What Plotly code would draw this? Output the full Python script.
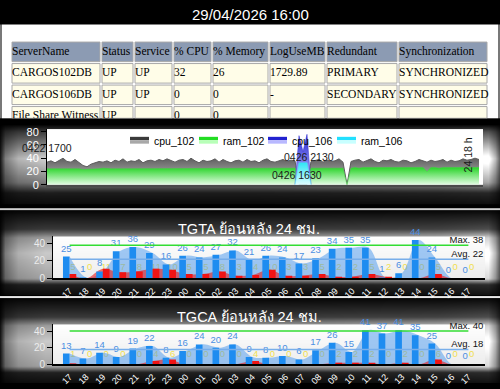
import base64, struct, zlib
import plotly.graph_objects as go

W, H = 500, 389

# ---------------- data ----------------
report_time = "29/04/2026 16:00"

table_header = ["ServerName", "Status", "Service", "% CPU", "% Memory", "LogUseMB", "Redundant", "Synchronization"]
table_row_1 = ["CARGOS102DB", "UP", "UP", "32", "26", "1729.89", "PRIMARY", "SYNCHRONIZED"]
table_row_2 = ["CARGOS106DB", "UP", "UP", "0", "0", "-", "SECONDARY", "SYNCHRONIZED"]
table_row_3 = ["File Share Witness", "UP", "", "0", "0", "", "", ""]

mem_series_names = ["cpu_102", "ram_102", "cpu_106", "ram_106"]
cpu_102 = [34, 36, 33, 37, 40, 35, 34, 38, 33,
           29, 27, 31, 33,
           35, 34, 36, 33, 37, 35, 39, 34, 36, 35, 38, 33, 36,
           37, 35, 38, 36, 39, 36, 34, 37, 38, 35, 40, 36, 33, 37, 35,
           36, 39, 34, 38, 35, 33, 36, 37, 34, 38, 35, 36, 33, 37, 39, 35, 34, 36, 38, 35, 37,
           36, 0, 0, 0, 35,
           36, 38, 34, 37, 35, 36, 39, 34,
           0,
           35, 37, 38, 34, 36, 39, 35, 33, 37, 36, 38, 35, 34, 37, 36, 33, 35, 38, 36, 34,
           37, 35, 36, 38, 34, 37, 35, 36, 39, 37, 38, 40, 38]
ram_102 = [24, 24, 25, 24, 24, 24, 25, 24, 24, 23,
           23, 24, 24, 24, 25, 24, 24, 24, 24, 25,
           24, 24, 24, 25, 24, 24, 24, 25, 24, 24,
           24, 24, 25, 24, 24, 25, 24, 24, 24, 24,
           25, 25, 24, 24, 25, 24, 24, 24, 25, 25,
           24, 25, 25, 24, 25, 25, 25, 24, 25, 25,
           25, 25,
           25, 0, 0, 0, 25,
           25, 25, 26, 25, 25, 26, 25, 25,
           0,
           25, 26, 25, 26, 26, 25, 26, 26, 25, 26,
           26, 26, 25, 26, 26, 26, 25, 26, 26, 20,
           26, 26, 25, 26, 26, 26, 26, 25, 26, 26,
           26, 26, 26]
win_106_index = [62, 63, 64, 65, 66]
cpu_106 = [0, 74, 50, 76, 0]
ram_106 = [0, 33, 33, 33, 0]
mem_tick_values = [0, 20, 40, 60, 80]
mem_notes = ["0422 1700", "0426 2130", "0426 1630", "24 18 h"]

hours = ["17", "18", "19", "20", "21", "22", "23", "00", "01", "02", "03", "04", "05",
         "06", "07", "08", "09", "10", "11", "12", "13", "14", "15", "16", "17"]
bar_tick_values = [0, 20, 40]

tgta_title = "TGTA ย้อนหลัง 24 ชม."
tgta_blue = [25, 1, 8, 31, 36, 29, 16, 26, 24, 27, 32, 21, 26, 24, 17, 23, 34, 35, 35, 1, 6, 44, 24, 0, 0]
tgta_red = [5, 0, 11, 7, 8, 11, 10, 5, 5, 8, 3, 4, 10, 3, 3, 5, 2, 2, 5, 2, 0, 0, 5, 0, 0]
tgta_max, tgta_avg = 38, 22

tgca_title = "TGCA ย้อนหลัง 24 ชม."
tgca_blue = [13, 7, 14, 9, 19, 22, 8, 16, 24, 20, 24, 9, 8, 10, 6, 17, 26, 15, 41, 37, 41, 35, 25, 0, 0]
tgca_red = [1, 0, 0, 0, 0, 4, 6, 0, 0, 0, 0, 4, 0, 0, 0, 0, 2, 2, 2, 0, 2, 0, 6, 0, 0]
tgca_max, tgca_avg = 40, 18

# ---------------- layout constants (pixels) ----------------
SANS = "Liberation Sans, Arial, sans-serif"
SERIF = "Liberation Serif, Times New Roman, serif"
col_edges = [11, 101, 134, 173, 212, 269, 326, 398, 488]
table_top, row_pitch, row_h, table_clip = 40, 22, 20, 118
MEM_BOX = (47, 129, 483, 186)
A_BOX = (53, 239, 485, 282)
C_BOX = (53, 329, 485, 370)


def px(x):
    return x / W


def py(y):
    return 1 - y / H


# ---------------- background picture (decoration only) ----------------
def lerp(pts, v):
    if v <= pts[0][0]:
        return pts[0][1]
    for (a, va), (b, vb) in zip(pts, pts[1:]):
        if v <= b:
            return va + (vb - va) * (v - a) / (b - a)
    return pts[-1][1]


M_V = [(0, 0.05), (0.08, 0.3), (0.42, 1.0), (0.72, 0.6), (0.85, 0.14), (1, 0.05)]
B_V = [(0, 0.03), (0.22, 0.28), (0.32, 0.75), (0.5, 0.97), (0.8, 0.78), (0.87, 0.16), (1, 0.06)]
H_PTS = [(0, 0.1), (5, 0.5), (18, 0.72), (45, 0.82), (250, 0.8), (440, 0.95), (488, 1.1), (495, 0.75), (500, 0.35)]
HX = [lerp(H_PTS, x) for x in range(W)]
panels = [(125, 206, M_V, MEM_BOX, "mem"), (212, 299, B_V, A_BOX, "bar"), (302, 389, B_V, C_BOX, "bar")]


def row_bytes(y):
    def solid(c):
        return bytes(c) * W
    if y < 22:
        return solid((0, 0, 0))
    if y < 118:
        row = bytearray(bytes((255, 255, 255)) * W)
        for x in (0, 1, 498, 499):
            row[3 * x:3 * x + 3] = bytes((120, 120, 120))
        return bytes(row)
    if 210 <= y < 212:
        return solid((208, 208, 208))
    if 300 <= y < 302:
        return solid((232, 232, 232))
    for (y0, y1, prof, box, kind) in panels:
        if y0 <= y < y1:
            v = lerp(prof, (y - y0) / (y1 - y0))
            row = bytearray()
            for x in range(W):
                if box[0] <= x < box[2] and box[1] <= y < box[3]:
                    if kind == "mem":
                        g = 255
                    else:
                        g = int(255 - 18 * (y - box[1]) / (box[3] - box[1]))
                else:
                    g = int(255 * max(0.0, min(1.0, v * HX[x])))
                row += bytes((g, g, g))
            return bytes(row)
    return solid((0, 0, 0))


def make_png():
    raw = bytearray()
    for y in range(H):
        raw.append(0)
        raw += row_bytes(y)

    def chunk(t, d):
        c = struct.pack(">I", len(d)) + t + d
        return c + struct.pack(">I", zlib.crc32(t + d) & 0xFFFFFFFF)

    png = (b"\x89PNG\r\n\x1a\n"
           + chunk(b"IHDR", struct.pack(">IIBBBBB", W, H, 8, 2, 0, 0, 0))
           + chunk(b"IDAT", zlib.compress(bytes(raw), 9))
           + chunk(b"IEND", b""))
    return "data:image/png;base64," + base64.b64encode(png).decode()


fig = go.Figure()
shapes = []
annos = []

# ---------------- table ----------------
rows = [table_header, table_row_1, table_row_2, table_row_3]
for r, row in enumerate(rows):
    top = table_top + r * row_pitch
    bot = min(top + row_h, table_clip)
    for c in range(len(table_header)):
        shapes.append(dict(type="rect", xref="x8", yref="y8",
                           x0=col_edges[c] + 1, x1=col_edges[c + 1] - 1, y0=top, y1=bot,
                           fillcolor="#8c9bb3" if r == 0 else "#fffde8",
                           line=dict(color="#a8a8a8", width=1), layer="below"))
    fig.add_trace(go.Scatter(
        x=[col_edges[c] + 1 for c in range(len(row))],
        y=[top + row_h / 2] * len(row), text=row, mode="text",
        textposition="middle right", cliponaxis=True,
        textfont=dict(family=SERIF, size=11.5, color="black"),
        xaxis="x8", yaxis="y8", hoverinfo="skip", showlegend=False))

# ---------------- memory chart ----------------
mem_idx = list(range(len(cpu_102)))
fig.add_trace(go.Scatter(x=mem_idx, y=cpu_102, mode="lines", fill="tozeroy",
                         line=dict(color="#5c5c5c", width=1),
                         fillgradient=dict(type="vertical", start=0, stop=40,
                                           colorscale=[[0, "#cccccc"], [1, "#626262"]]),
                         xaxis="x", yaxis="y", showlegend=False, name=mem_series_names[0]))
fig.add_trace(go.Scatter(x=mem_idx, y=ram_102, mode="lines", fill="tozeroy",
                         line=dict(color="#3ad83a", width=0.5),
                         fillgradient=dict(type="vertical", start=0, stop=26,
                                           colorscale=[[0, "#f2fff2"], [1, "#33d633"]]),
                         xaxis="x", yaxis="y", showlegend=False, name=mem_series_names[1]))
fig.add_trace(go.Scatter(x=win_106_index, y=cpu_106, mode="lines", fill="tozeroy",
                         line=dict(color="#3030d0", width=0.5),
                         fillgradient=dict(type="vertical", start=0, stop=76,
                                           colorscale=[[0, "#d0d0ff"], [1, "#2424d4"]]),
                         xaxis="x", yaxis="y", showlegend=False, name=mem_series_names[2]))
fig.add_trace(go.Scatter(x=win_106_index, y=ram_106, mode="lines", fill="tozeroy",
                         line=dict(color="#40e8f8", width=0.5),
                         fillgradient=dict(type="vertical", start=0, stop=33,
                                           colorscale=[[0, "#eaffff"], [1, "#36e6f6"]]),
                         xaxis="x", yaxis="y", showlegend=False, name=mem_series_names[3]))

legend_x = [130, 199, 268, 337]
legend_cols = [("#3a3a3a", "#a8a8a8"), ("#22dd22", "#b8ffb8"), ("#2222d0", "#b8b8ff"), ("#22e0ff", "#c8ffff")]
for name, lx, (ct, cb) in zip(mem_series_names, legend_x, legend_cols):
    shapes.append(dict(type="rect", xref="paper", yref="paper", x0=px(lx), x1=px(lx + 19),
                       y0=py(140.5), y1=py(137), fillcolor=ct, line=dict(width=0)))
    shapes.append(dict(type="rect", xref="paper", yref="paper", x0=px(lx), x1=px(lx + 19),
                       y0=py(144), y1=py(140.5), fillcolor=cb, line=dict(width=0)))
    annos.append(dict(text=name, xref="paper", yref="paper", x=px(lx + 22), y=py(141),
                      xanchor="left", yanchor="middle", showarrow=False,
                      font=dict(family=SANS, size=10.5, color="black")))

note_pos = [(47, 148, 0), (309, 158, 0), (297, 176, 0), (468, 156, -90)]
for note, (nx, ny, ang) in zip(mem_notes, note_pos):
    annos.append(dict(text=note, xref="paper", yref="paper", x=px(nx), y=py(ny),
                      xanchor="center", yanchor="middle", showarrow=False, textangle=ang,
                      font=dict(family=SANS, size=10.5, color="#1a1a1a")))

# ---------------- bar charts ----------------
cat_idx = list(range(len(hours)))
GROUP_OFF = 0.2
LABEL_Y = 12


def bar_panel(base, title, blue, red, vmax, vavg, box):
    xb, xa, xt = "x%d" % base, "x%d" % (base + 1), "x%d" % (base + 2)
    yb, ya, yt = "y%d" % base, "y%d" % (base + 1), "y%d" % (base + 2)
    # yellow value labels (lowest layer)
    fig.add_trace(go.Scatter(x=[i + GROUP_OFF for i in cat_idx], y=[LABEL_Y] * len(red),
                             text=[str(v) for v in red], mode="text",
                             textfont=dict(family=SANS, size=9.5, color="#f0df50"),
                             xaxis=xb, yaxis=yb, showlegend=False, hoverinfo="skip"))
    # smoothed areas
    fig.add_trace(go.Scatter(x=cat_idx, y=blue, mode="lines", line=dict(width=0, shape="spline"),
                             fill="tozeroy", fillcolor="rgba(70,150,238,0.5)",
                             xaxis=xa, yaxis=ya, showlegend=False))
    fig.add_trace(go.Scatter(x=cat_idx, y=red, mode="lines", line=dict(width=0, shape="spline"),
                             fill="tozeroy", fillcolor="rgba(232,25,25,0.6)",
                             xaxis=xa, yaxis=ya, showlegend=False))
    # bars
    fig.add_trace(go.Bar(x=cat_idx, y=blue, marker=dict(color="#1e8cf0", line=dict(width=0)),
                         text=[str(v) for v in blue], textposition="outside", constraintext="none",
                         cliponaxis=False, textfont=dict(family=SANS, size=9.5, color="#4b8fe2"),
                         xaxis=xt, yaxis=yt, showlegend=False))
    fig.add_trace(go.Bar(x=cat_idx, y=red, marker=dict(color="#f01414", line=dict(width=0)),
                         xaxis=xt, yaxis=yt, showlegend=False))
    # max / avg lines
    fig.add_trace(go.Scatter(x=[cat_idx[0], cat_idx[-1]], y=[vmax, vmax], mode="lines",
                             line=dict(color="#33dd33", width=1.5), xaxis=xt, yaxis=yt, showlegend=False))
    fig.add_trace(go.Scatter(x=[cat_idx[0], cat_idx[-1]], y=[vavg, vavg], mode="lines",
                             line=dict(color="#78aeea", width=1.5), xaxis=xt, yaxis=yt, showlegend=False))
    fig.add_trace(go.Scatter(x=[len(hours) - 0.1] * 2, y=[vmax, vavg],
                             text=["Max. %d" % vmax, "Avg. %d" % vavg], mode="text",
                             textposition="top left", cliponaxis=False,
                             textfont=dict(family=SANS, size=9.5, color="#111111"),
                             xaxis=xt, yaxis=yt, showlegend=False))
    dom_x = [px(box[0]), px(box[2])]
    dom_y = [py(box[3]), py(box[1])]
    xr = [-1, len(hours)]
    yr = [0, 48]
    fig.layout["xaxis%d" % base] = dict(domain=dom_x, range=xr, anchor=yb, tickvals=cat_idx, ticktext=hours,
                                        tickangle=-45, tickfont=dict(family=SANS, size=9, color="white"),
                                        ticklabelstandoff=2,
                                        showline=True, linecolor="black", linewidth=1.5, showgrid=False,
                                        zeroline=False, ticks="", fixedrange=True)
    fig.layout["yaxis%d" % base] = dict(domain=dom_y, range=yr, anchor=xb, tickvals=bar_tick_values,
                                        ticks="outside", ticklen=5, tickcolor="black",
                                        tickfont=dict(family=SANS, size=10, color="#ececec"),
                                        showline=True, linecolor="black", linewidth=1, showgrid=False,
                                        zeroline=False)
    for k in (base + 1, base + 2):
        fig.layout["xaxis%d" % k] = dict(overlaying=xb, range=xr, anchor="y%d" % k, visible=False)
        fig.layout["yaxis%d" % k] = dict(overlaying=yb, range=yr, anchor="x%d" % k, visible=False)
    annos.append(dict(text=title, xref="paper", yref="paper", x=px(249), y=py(box[1] - 8),
                      xanchor="center", yanchor="middle", showarrow=False,
                      font=dict(family=SANS, size=14.5, color="white")))


bar_panel(2, tgta_title, tgta_blue, tgta_red, tgta_max, tgta_avg, A_BOX)
bar_panel(5, tgca_title, tgca_blue, tgca_red, tgca_max, tgca_avg, C_BOX)

annos.append(dict(text=report_time, xref="paper", yref="paper", x=0.5, y=py(11.5),
                  xanchor="center", yanchor="middle", showarrow=False,
                  font=dict(family=SANS, size=15, color="white")))

fig.update_layout(
    width=W, height=H, margin=dict(l=0, r=0, t=0, b=0),
    paper_bgcolor="black", plot_bgcolor="rgba(0,0,0,0)",
    barmode="group", bargap=0.2, bargroupgap=0,
    showlegend=False,
    xaxis=dict(domain=[px(MEM_BOX[0]), px(MEM_BOX[2])], range=[0, len(cpu_102)], anchor="y",
               showticklabels=False, ticks="", showgrid=False, zeroline=False,
               showline=True, linecolor="#4a4a4a", linewidth=2),
    yaxis=dict(domain=[py(MEM_BOX[3]), py(MEM_BOX[1])], range=[0, 84], anchor="x",
               tickvals=mem_tick_values, ticks="outside", ticklen=5, tickcolor="black",
               tickfont=dict(family=SANS, size=11, color="white"),
               showline=True, linecolor="black", linewidth=1, showgrid=False, zeroline=False),
    xaxis8=dict(domain=[0, 1], range=[0, W], anchor="y8", visible=False),
    yaxis8=dict(domain=[py(table_clip), py(22)], range=[table_clip, 22], anchor="x8", visible=False),
    shapes=shapes, annotations=annos,
    images=[dict(source=make_png(), xref="paper", yref="paper", x=0, y=1, sizex=1, sizey=1,
                 sizing="stretch", layer="below", xanchor="left", yanchor="top")],
)

fig.write_html("out.html", config={"displayModeBar": False})
